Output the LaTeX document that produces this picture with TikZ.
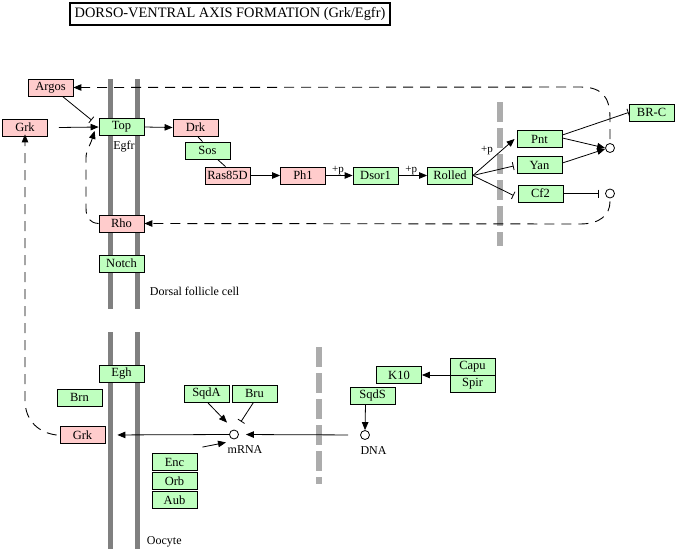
\documentclass[tikz,border=0pt]{standalone}
\usepackage{fontspec}
\setmainfont{Liberation Serif}
\usetikzlibrary{arrows.meta}
\definecolor{keggpink}{RGB}{255,204,204}
\definecolor{kegggreen}{RGB}{191,255,191}
\definecolor{membrane}{RGB}{128,128,128}
\definecolor{nuclear}{RGB}{172,172,172}
\tikzset{
  gene/.style={draw, line width=0.8pt, minimum width=45pt, minimum height=17pt, inner sep=0pt, font=\fontsize{12.5}{12.5}\selectfont},
  pinkgene/.style={gene, fill=keggpink},
  greengene/.style={gene, fill=kegggreen},
  cmpd/.style={circle, draw, line width=0.8pt, minimum size=9pt, inner sep=0pt},
  lbl/.style={inner sep=0.75pt, font=\fontsize{12}{12}\selectfont},
  plbl/.style={inner sep=0.75pt, font=\fontsize{11}{11}\selectfont},
  act/.style={line width=0.8pt, -{Triangle[length=8pt,width=6.5pt]}},
  inh/.style={line width=0.8pt, -{Bar[width=8pt]}},
  link/.style={line width=0.8pt},
  indirect/.style={line width=0.9pt, dash pattern=on 10pt off 7pt},
}
\begin{document}
\begin{tikzpicture}[x=1pt,y=1pt,yscale=-1,xscale=1]
\useasboundingbox (0,0) rectangle (675,549);

% Title
\draw (230,14) node [draw, line width=1.5pt, minimum width=320pt, minimum height=22pt, inner sep=0pt, font=\fontsize{14.4}{14.4}\selectfont] (title) {DORSO-VENTRAL AXIS FORMATION (Grk/Egfr)};

%Membranes
\draw [membrane, line width=5pt] (110,79) -- (110,309) ;
\draw [membrane, line width=5pt] (137,79) -- (137,309) ;
\draw [membrane, line width=5pt] (110,332) -- (110,549) ;
\draw [membrane, line width=5pt] (137,332) -- (137,549) ;
%Nuclear envelopes
\draw [nuclear, line width=6pt, dash pattern=on 20pt off 6pt] (500,102) -- (500,246) ;
\draw [nuclear, line width=6pt, dash pattern=on 20pt off 6pt] (319,347) -- (319,484) ;

% Follicle cell genes
\node [pinkgene] (argos) at (50.5,87.5) {Argos};
\node [pinkgene] (grkf) at (25,127.5) {Grk};
\node [greengene] (top) at (121.5,127) {Top};
\node [pinkgene] (drk) at (195.5,127.5) {Drk};
\node [greengene] (sos) at (207.5,150.5) {Sos};
\node [pinkgene] (ras) at (227.5,175.5) {Ras85D};
\node [pinkgene] (phl) at (303,175.5) {Ph1};
\node [greengene] (dsor) at (375.5,175.5) {Dsor1};
\node [greengene] (rolled) at (450,175.5) {Rolled};
\node [greengene] (pnt) at (539.5,139) {Pnt};
\node [greengene] (yan) at (539.5,165) {Yan};
\node [greengene] (cf) at (540.5,193.5) {Cf2};
\node [greengene] (brc) at (651.5,112.5) {BR-C};
\node [pinkgene] (rho) at (121.5,223.5) {Rho};
\node [greengene] (notch) at (121.5,263.5) {Notch};
\node [cmpd] (pntyan) at (610,148) {};
\node [cmpd] (cftarget) at (610,193.5) {};

% Oocyte genes
\node [greengene] (egh) at (121.5,374) {Egh};
\node [greengene] (brn) at (79.5,397.5) {Brn};
\node [pinkgene] (grko) at (82.5,435) {Grk};
\node [greengene] (sqda) at (206.5,393.5) {SqdA};
\node [greengene] (bru) at (254.5,393.5) {Bru};
\node [greengene] (enc) at (174.5,462) {Enc};
\node [greengene] (orb) at (174.5,481) {Orb};
\node [greengene] (aub) at (174.5,500) {Aub};
\node [greengene] (kten) at (399,375) {K10};
\node [greengene] (capu) at (472.5,366.5) {Capu};
\node [greengene] (spir) at (472.5,383.5) {Spir};
\node [greengene] (sqds) at (372.5,395.5) {SqdS};
\node [cmpd] (mrna) at (234,434.5) {};
\node [cmpd] (dna) at (365,435) {};

% Text Node
\draw (124,140) node [anchor=north] [lbl] {Egfr};
\draw (149,291) node [anchor=west] [lbl] {Dorsal follicle cell};
\draw (146,542) node [anchor=west] [lbl] {Oocyte};
\draw (245,450) node [lbl] {mRNA};
\draw (373.5,451) node [lbl] {DNA};

%Follicle cell relations
\draw [act] ([xshift=11pt]grkf.east) -- (top.west) ;
\draw [inh] ([xshift=12pt]argos.south) -- ([xshift=-7pt,yshift=2pt]top.north west) ;
\draw [act] (top.east) -- (drk.west) ;
\draw [link] ([xshift=2pt]drk.south) -- ([xshift=-5pt]sos.north) ;
\draw [link] ([xshift=10pt]sos.south) -- ([xshift=-2pt]ras.north) ;
\draw [act] (ras.east) -- (phl.west) ;
\draw [act] (phl.east) -- node [above, plbl, pos=0.45] {+p} (dsor.west) ;
\draw [act] (dsor.east) -- node [above, plbl, pos=0.45] {+p} (rolled.west) ;
\draw [act] (rolled.east) -- ([xshift=-2pt]pnt.west) ;
\draw (487,151) node [plbl] {+p};
\draw [inh] (rolled.east) -- ([xshift=-3pt,yshift=1pt]yan.west) ;
\draw [inh] (rolled.east) -- ([xshift=-4pt,yshift=2pt]cf.west) ;
\draw [act] ([yshift=-1pt]pnt.east) -- (pntyan.west) ;
\draw [act] ([yshift=-2pt]yan.east) -- ([yshift=1pt]pntyan.west) ;
\draw [inh] ([yshift=-4pt]pnt.east) -- (brc.west) ;
\draw [inh] (cf.east) -- ([xshift=-6pt]cftarget.west) ;
\draw [indirect, -{Triangle[length=8pt,width=6.5pt]}] ([yshift=-4pt]pntyan.north) -- (610,118) .. controls (610,95) and (600,87) .. (580,87) -- (argos.east) ;
\draw [indirect, -{Triangle[length=8pt,width=6.5pt]}] ([yshift=3pt]cftarget.south) .. controls (610,215) and (600,224) .. (580,224) -- (rho.east) ;
\draw [indirect, -{Triangle[length=8pt,width=6.5pt]}] (rho.west) .. controls (90,223) and (86,218) .. (86,208) -- (86,158) .. controls (86,150) and (90,146) .. ([xshift=-4pt,yshift=-5pt]top.south west) ;

%Oocyte relations
\draw [indirect, -{Triangle[length=8pt,width=6.5pt]}] ([xshift=-3pt]grko.west) .. controls (40,433) and (25,422) .. (25,400) -- ([yshift=-2pt]grkf.south) ;
\draw [act, shorten >=12pt] (mrna.west) -- (grko.east) ;
\draw [act, shorten <=12pt, shorten >=7pt] (dna.west) -- (mrna.east) ;
\draw [act] ([xshift=1pt]sqda.south) -- ([xshift=-7pt,yshift=-7pt]mrna.north) ;
\draw [inh] ([xshift=-1pt]bru.south) -- ([xshift=7pt,yshift=-8pt]mrna.north) ;
\draw [act] ([xshift=5pt,yshift=-6pt]enc.north east) -- ([xshift=-8pt,yshift=3pt]mrna.south) ;
\draw [act] ([xshift=-7pt]sqds.south) -- (dna.north) ;
\draw [act] ([yshift=8.5pt]capu.west) -- (kten.east) ;

\end{tikzpicture}
\end{document}
